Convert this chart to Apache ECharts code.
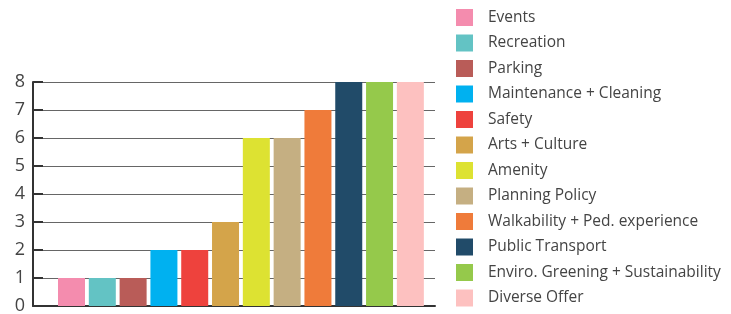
<!DOCTYPE html>
<html>
<head>
<meta charset="utf-8">
<script src="https://cdn.jsdelivr.net/npm/echarts@6/dist/echarts.min.js"></script>
<style>
  html, body { margin: 0; padding: 0; background: #fff; }
  #chart { width: 731px; height: 314px; }
</style>
</head>
<body>
<div id="chart"></div>
<script>
// categories, in bar order
const categories = [
    'Events', 'Recreation', 'Parking', 'Maintenance + Cleaning', 'Safety',
    'Arts + Culture', 'Amenity', 'Planning Policy', 'Walkability + Ped. experience',
    'Public Transport', 'Enviro. Greening + Sustainability', 'Diverse Offer'
];
const counts = [1, 1, 1, 2, 2, 3, 6, 6, 7, 8, 8, 8];
const colors = [
    '#F48CAE', '#63C3C4', '#B95C58', '#00B1F0', '#EE423D', '#D4A44A',
    '#DDE232', '#C5AF82', '#EF7B3A', '#214B69', '#95C94B', '#FDC1C0'
];
const yTicks = [0, 1, 2, 3, 4, 5, 6, 7, 8];

const chart = echarts.init(document.getElementById('chart'));

// one series per category so each gets its own legend entry
const series = categories.map((name, i) => ({
    name: name,
    type: 'bar',
    stack: 'all',
    barWidth: 27,
    itemStyle: { color: colors[i] },
    data: [[i + 1, counts[i]]]
}));

const option = {
    animation: false,
    textStyle: { fontFamily: 'Open Sans' },
    color: colors,
    legend: {
        orient: 'vertical',
        left: 451,
        top: 4,
        height: 310,
        itemWidth: 17,
        itemHeight: 17,
        itemGap: 8.5,
        icon: 'rect',
        textStyle: { fontSize: 15.5, color: '#444', padding: [0, 0, 0, 10] },
        data: categories
    },
    grid: { left: 33, right: 296, top: 82, bottom: 8, containLabel: false, outerBoundsMode: 'none' },
    xAxis: {
        type: 'value',
        min: -0.25,
        max: 12.8,
        axisLine: { show: true, onZero: false, lineStyle: { color: '#333', width: 2 } },
        axisTick: { show: false },
        axisLabel: { show: false },
        splitLine: { show: false }
    },
    yAxis: {
        type: 'value',
        min: yTicks[0],
        max: yTicks[yTicks.length - 1],
        interval: 1,
        axisLine: { show: true, onZero: false, lineStyle: { color: '#333', width: 2 } },
        axisTick: { show: true, inside: true, length: 10, lineStyle: { color: '#333', width: 2 } },
        axisLabel: { fontSize: 18, color: '#444', margin: 8 },
        splitLine: { show: true, lineStyle: { color: '#666', width: 1 } }
    },
    series: series
};

chart.setOption(option);
</script>
</body>
</html>
